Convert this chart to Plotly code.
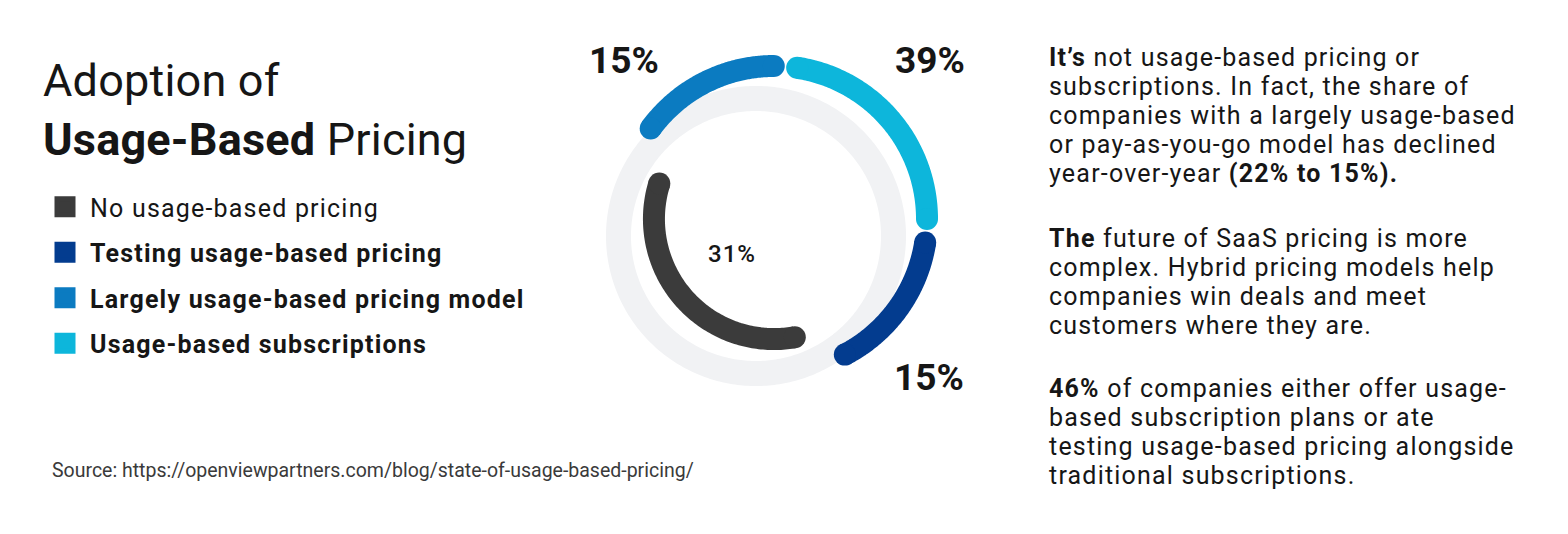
import numpy as np
import plotly.graph_objects as go

# ---------------- data ----------------
categories = [
    "No usage-based pricing",
    "Testing usage-based pricing",
    "Largely usage-based pricing model",
    "Usage-based subscriptions",
]
values = [31, 15, 15, 39]
legend_bold = [False, True, True, True]

# ring membership: inner ring carries "No usage-based pricing",
# outer ring runs clockwise: Largely -> Subscriptions -> Testing
inner_ring = ["No usage-based pricing"]
outer_ring = ["Largely usage-based pricing model", "Usage-based subscriptions", "Testing usage-based pricing"]

title_line1 = "Adoption of"
title_line2 = "<b>Usage-Based</b> Pricing"
source_text = "Source: https://openviewpartners.com/blog/state-of-usage-based-pricing/"

para1 = [
    "<b>It’s</b> not usage-based pricing or",
    "subscriptions. In fact, the share of",
    "companies with a largely usage-based",
    "or pay-as-you-go model has declined",
    "year-over-year <b>(22% to 15%).</b>",
]
para2 = [
    "<b>The</b> future of SaaS pricing is more",
    "complex. Hybrid pricing models help",
    "companies win deals and meet",
    "customers where they are.",
]
para3 = [
    "<b>46%</b> of companies either offer usage-",
    "based subscription plans or ate",
    "testing usage-based pricing alongside",
    "traditional subscriptions.",
]

# ---------------- style / layout ----------------
W, H = 1568, 534
colors = {
    "No usage-based pricing": "#3b3b3b",
    "Testing usage-based pricing": "#033c8f",
    "Largely usage-based pricing model": "#0b7bc1",
    "Usage-based subscriptions": "#0db6db",
}
TRACK_COLOR = "#f1f2f4"
FONT = "Roboto"
TXT = "#161616"


def px(x):
    return x / W


def py(y):
    return 1 - y / H


def spaced(s, ls):
    return f'<span style="letter-spacing:{ls}px">{s}</span>'


# ring scales (degrees of arc for a value)
OUTER_START = 143.7      # theta where the outer ring starts (deg, ccw from east)
OUTER_BASE, OUTER_PER_PT, OUTER_GAP = 36.3, 1.154, 8.8
INNER_START = 162.8
INNER_PER_PT = 3.78
R_OUTER, R_INNER, R_TRACK = 0.85, 0.667, 0.764
ARC_W, TRACK_W = 22, 25

fig = go.Figure()

# background track (its own polar, slightly offset)
th = np.linspace(0, 360, 361)
fig.add_trace(go.Scatterpolar(r=np.full_like(th, R_TRACK), theta=th, mode="lines",
                              line=dict(color=TRACK_COLOR, width=TRACK_W),
                              subplot="polar", showlegend=False, hoverinfo="skip"))


def add_arc(cat, t0, t1, r):
    t = np.linspace(t0, t1, 120)
    c = colors[cat]
    fig.add_trace(go.Scatterpolar(r=np.full_like(t, r), theta=t, mode="lines",
                                  line=dict(color=c, width=ARC_W),
                                  subplot="polar2", showlegend=False, hoverinfo="skip"))
    fig.add_trace(go.Scatterpolar(r=[r, r], theta=[t0, t1], mode="markers",
                                  marker=dict(color=c, size=ARC_W, line=dict(width=0)),
                                  subplot="polar2", showlegend=False, hoverinfo="skip"))


val = dict(zip(categories, values))
t = OUTER_START
for cat in outer_ring:
    sweep = OUTER_BASE + OUTER_PER_PT * val[cat]
    add_arc(cat, t, t - sweep, R_OUTER)
    t = t - sweep - OUTER_GAP

t = INNER_START
for cat in inner_ring:
    sweep = INNER_PER_PT * val[cat]
    add_arc(cat, t, t + sweep, R_INNER)
    t += sweep

# legend-only entries
for cat, b in zip(categories, legend_bold):
    label = spaced(cat, 1.2)
    fig.add_trace(go.Scatterpolar(r=[None], theta=[None], mode="markers", subplot="polar2",
                                  name=f"<b>{label}</b>" if b else label, legendgroup=cat,
                                  marker=dict(symbol="square", size=16, color=colors[cat],
                                              line=dict(color=colors[cat], width=5))))

polar_common = dict(bgcolor="rgba(0,0,0,0)",
                    radialaxis=dict(visible=False, range=[0, 1]),
                    angularaxis=dict(visible=False))
# track centre (756,236), coloured rings centre (774,219); radius 180 px
fig.update_layout(
    width=W, height=H, margin=dict(l=0, r=0, t=0, b=0),
    paper_bgcolor="white", plot_bgcolor="white",
    polar=dict(domain=dict(x=[px(576), px(936)], y=[py(416), py(56)]), **polar_common),
    polar2=dict(domain=dict(x=[px(594), px(954)], y=[py(399), py(39)]), **polar_common),
    showlegend=True,
    legend=dict(x=px(40), y=py(184), xanchor="left", yanchor="top",
                bgcolor="rgba(0,0,0,0)", font=dict(family=FONT, size=25, color=TXT),
                tracegroupgap=10, itemwidth=40, traceorder="grouped"),
    font=dict(family=FONT, color=TXT),
)

ann = []
ann.append(dict(x=px(41), y=py(80), text=spaced(title_line1, 0.2), font=dict(size=45, color=TXT, family=FONT)))
ann.append(dict(x=px(41), y=py(139), text=spaced(title_line2, 0.2), font=dict(size=45, color=TXT, family=FONT)))
ann.append(dict(x=px(50), y=py(470), text=source_text, font=dict(size=19.5, color="#3a3a3a", family=FONT)))

# percentage labels
ann.append(dict(x=px(624), y=py(60), xanchor="center",
                text=f"<b>{val['Largely usage-based pricing model']}%</b>", font=dict(size=37, color=TXT, family=FONT)))
ann.append(dict(x=px(930), y=py(60), xanchor="center",
                text=f"<b>{val['Usage-based subscriptions']}%</b>", font=dict(size=37, color=TXT, family=FONT)))
ann.append(dict(x=px(929), y=py(377), xanchor="center",
                text=f"<b>{val['Testing usage-based pricing']}%</b>", font=dict(size=37, color=TXT, family=FONT)))
ann.append(dict(x=px(732), y=py(254), xanchor="center",
                text=spaced(f"{val['No usage-based pricing']}%", 1), font=dict(size=24, color=TXT, family=FONT, weight=500)))

LINE = 29.1
for start, para in [(57, para1), (238, para2), (388, para3)]:
    for i, line in enumerate(para):
        ann.append(dict(x=px(1047), y=py(start + i * LINE), text=spaced(line, 1.2),
                        font=dict(size=25, color=TXT, family=FONT)))

for a in ann:
    a.setdefault("xanchor", "left")
    a.update(xref="paper", yref="paper", yanchor="middle", showarrow=False)
fig.update_layout(annotations=ann)

fig.write_html("out.html")
